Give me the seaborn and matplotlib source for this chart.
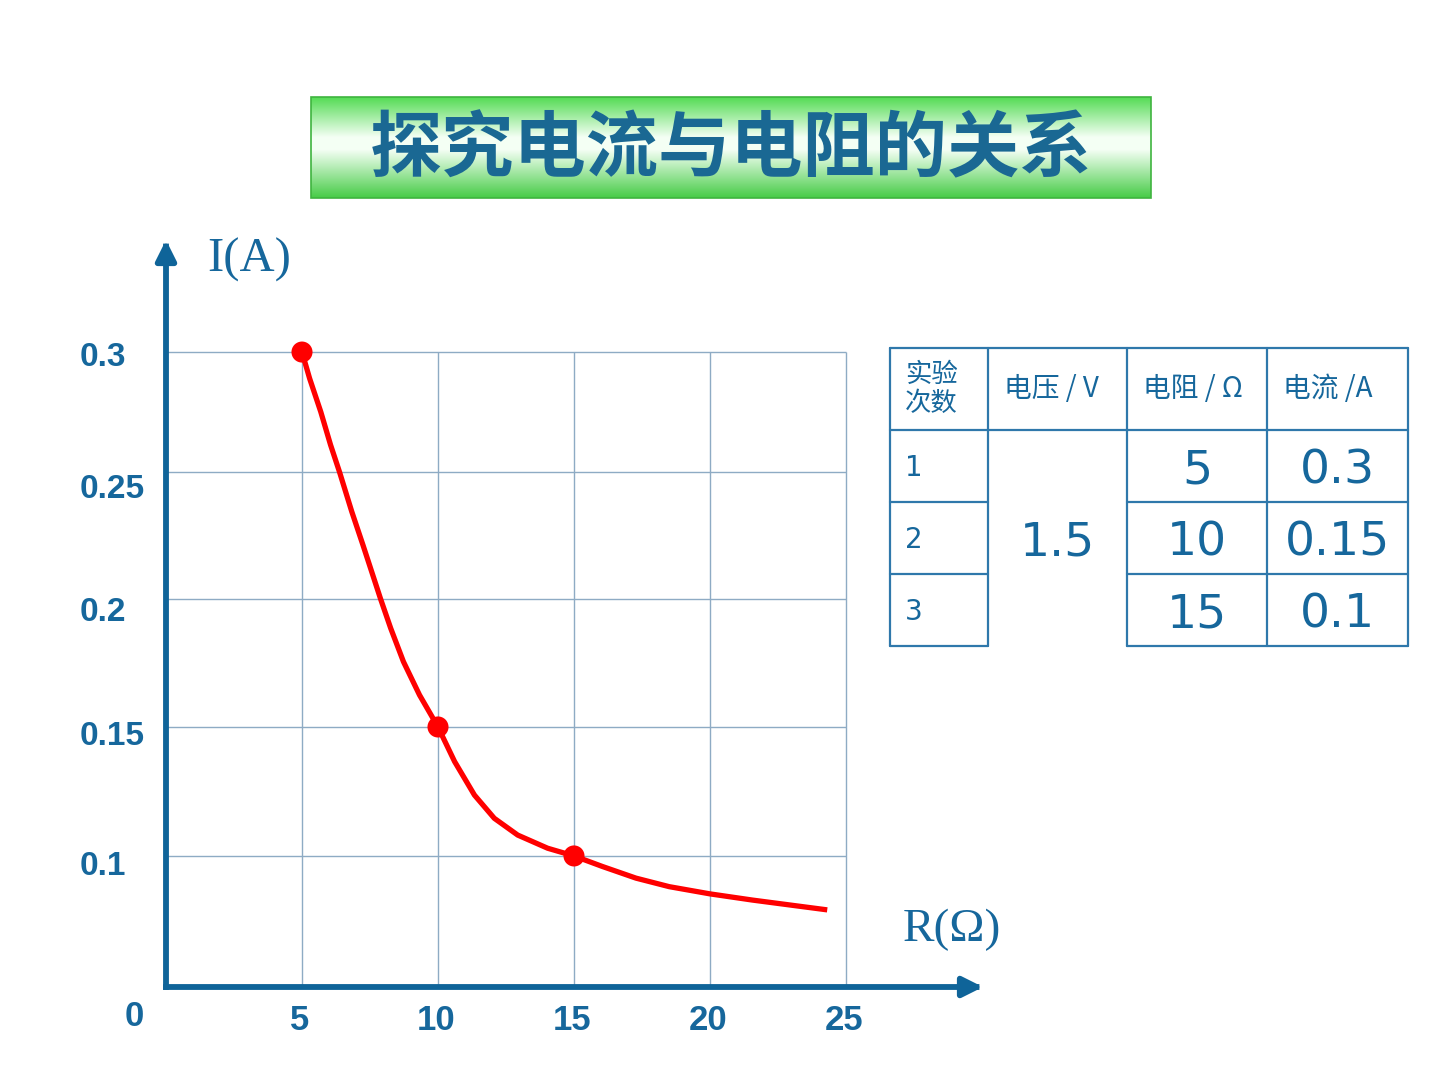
import numpy as np
import pandas as pd
import matplotlib
matplotlib.use('Agg')
import matplotlib.pyplot as plt
import seaborn as sns
from matplotlib import font_manager as fm
from matplotlib.lines import Line2D
from matplotlib.patches import Rectangle

# ---------------- data ----------------
title = '探究电流与电阻的关系'
x_label = 'R(Ω)'
y_label = 'I(A)'
x_ticks = [5, 10, 15, 20, 25]
x_tick_labels = ['5', '10', '15', '20', '25']
y_ticks = [0.1, 0.15, 0.2, 0.25, 0.3]
y_tick_labels = ['0.1', '0.15', '0.2', '0.25', '0.3']
origin_label = '0'

trials = ['1', '2', '3']
voltage = 1.5
resistance = [5, 10, 15]
current = [0.3, 0.15, 0.1]
headers = ['实验\n次数', '电压 / V', '电阻 / Ω', '电流 /A']

# hand-drawn curve
curve_r = [5.0, 5.28, 5.69, 6.05, 6.38, 6.83, 7.24, 7.64, 7.89, 8.26, 8.73, 9.32,
           10.0, 10.61, 11.34, 12.07, 12.93, 14.03, 15.0, 16.05, 17.28, 18.5, 20.0,
           21.56, 23.15, 24.31]
curve_i = [0.3, 0.289, 0.2751, 0.2613, 0.25, 0.2344, 0.2213, 0.2082, 0.2, 0.1886,
           0.1755, 0.1625, 0.15, 0.1366, 0.1236, 0.1146, 0.1081, 0.103, 0.1, 0.0959,
           0.0914, 0.0881, 0.0853, 0.0829, 0.0807, 0.0791]

# ---------------- style ----------------
sns.set_theme(style='white')
plt.rcParams['font.family'] = ['Noto Sans CJK SC', 'DejaVu Sans']

names = {f.name for f in fm.fontManager.ttflist}
narrow = 'Liberation Sans Narrow' if 'Liberation Sans Narrow' in names else 'Liberation Sans'

AX_COLOR = '#0f6499'
TXT_COLOR = '#16679c'
GRID_COLOR = '#8eabc4'
TABLE_LINE = '#2f78ab'

fig = plt.figure(figsize=(14.4, 10.8), dpi=100)

# background overlay in pixel coordinates (banner, table)
bg = fig.add_axes([0, 0, 1, 1])
bg.set_xlim(0, 1440)
bg.set_ylim(1080, 0)
bg.axis('off')

# banner gradient
t = np.linspace(0, 1, 200)
stops_t = [0.0, 0.40, 0.52, 1.0]
top_c = np.array([0.33, 0.86, 0.33])
mid_c = np.array([0.96, 1.0, 0.96])
bot_c = np.array([0.28, 0.80, 0.28])
cols = [top_c, mid_c, mid_c, bot_c]
grad = np.stack([np.interp(t, stops_t, [c[k] for c in cols]) for k in range(3)], axis=-1)
grad = grad[:, None, :]
bg.imshow(grad, extent=(311, 1151, 198, 97), aspect='auto', zorder=1)
bg.add_patch(Rectangle((311, 97), 840, 101, fill=False, edgecolor='#3fb43f', lw=1.2, zorder=2))
bg.set_xlim(0, 1440)
bg.set_ylim(1080, 0)
bg.text(731, 150, title, ha='center', va='center', fontsize=52, fontweight='bold',
        color='#1a6893', family=['Noto Sans CJK SC', 'DejaVu Sans'], zorder=3)

# table
col_x = [890, 988, 1127, 1267, 1408]
row_y = [348, 430, 502, 574, 646]
for i, y in enumerate(row_y):
    if i <= 1:
        bg.add_line(Line2D([col_x[0], col_x[-1]], [y, y], color=TABLE_LINE, lw=1.6))
    else:
        bg.add_line(Line2D([col_x[0], col_x[1]], [y, y], color=TABLE_LINE, lw=1.6))
        bg.add_line(Line2D([col_x[2], col_x[-1]], [y, y], color=TABLE_LINE, lw=1.6))
for x in col_x:
    bg.add_line(Line2D([x, x], [row_y[0], row_y[-1]], color=TABLE_LINE, lw=1.6))

hdr_y = (row_y[0] + row_y[1]) / 2
bg.text(col_x[0] + 15, hdr_y, headers[0], ha='left', va='center', fontsize=19,
        color=TXT_COLOR, linespacing=1.1)
for j in range(1, 4):
    bg.text(col_x[j] + 16, hdr_y, headers[j], ha='left', va='center', fontsize=20,
            color=TXT_COLOR)

for k in range(3):
    cy = (row_y[k + 1] + row_y[k + 2]) / 2
    bg.text(col_x[0] + 15, cy + 2, trials[k], ha='left', va='center', fontsize=20,
            color=TXT_COLOR, family='DejaVu Sans')
    bg.text((col_x[2] + col_x[3]) / 2, cy + 5, f'{resistance[k]:g}', ha='center',
            va='center', fontsize=34, color=TXT_COLOR, family='DejaVu Sans')
    bg.text((col_x[3] + col_x[4]) / 2, cy + 5, f'{current[k]:g}', ha='center',
            va='center', fontsize=34, color=TXT_COLOR, family='DejaVu Sans')
bg.text((col_x[1] + col_x[2]) / 2, (row_y[1] + row_y[-1]) / 2 + 5, f'{voltage:g}',
        ha='center', va='center', fontsize=34, color=TXT_COLOR, family='DejaVu Sans')

# ---------------- main chart ----------------
ax = fig.add_axes([166 / 1440, (1080 - 987) / 1080, 817 / 1440, 747 / 1080])
ax.set_facecolor('none')

ky = np.array([0.0, 0.05, 0.1, 0.15, 0.2, 0.25, 0.3, 0.35, 0.4])
kp = -np.array([1114, 985, 856, 727, 599, 472, 352, 232, 112], dtype=float)


def fwd(v):
    return np.interp(v, ky, kp)


def inv(v):
    return np.interp(v, kp, ky)


ax.set_yscale('function', functions=(fwd, inv))
ax.set_xlim(0, 817 / 27.2)
ax.set_ylim(0.0492, 0.3467)
for s in ax.spines.values():
    s.set_visible(False)
ax.set_xticks([])
ax.set_yticks([])
ax.grid(False)

ax.vlines(x_ticks, 0.0492, max(y_ticks), color=GRID_COLOR, lw=1.0, zorder=1)
ax.hlines(y_ticks, 0, max(x_ticks), color=GRID_COLOR, lw=1.0, zorder=1)

sns.lineplot(x=curve_r, y=curve_i, ax=ax, color='#ff0000', lw=3.8, sort=False,
             estimator=None, zorder=3, solid_capstyle='butt', solid_joinstyle='round')
sns.scatterplot(x=resistance, y=current, ax=ax, color='#ff0000', s=230,
                edgecolor='none', zorder=4, clip_on=False)

arrow_kw = dict(arrowstyle='-|>,head_length=0.6,head_width=0.3', lw=4.2, color=AX_COLOR,
                mutation_scale=20, shrinkA=0, shrinkB=0, capstyle='projecting')
ax.annotate('', xy=(1, 0), xytext=(0, 0), xycoords='axes fraction', arrowprops=arrow_kw,
            annotation_clip=False)
ax.annotate('', xy=(0, 1), xytext=(0, 0), xycoords='axes fraction', arrowprops=arrow_kw,
            annotation_clip=False)

y_label_drop = [11, 10, 13, 17, 5]
for v, lab, d in zip(y_ticks, y_tick_labels, y_label_drop):
    ax.annotate(lab, xy=(0, v), xycoords=('axes fraction', 'data'), xytext=(-86, -d),
                textcoords='offset pixels', ha='left', va='center', fontsize=24,
                fontweight='bold', color=TXT_COLOR, family='Liberation Sans',
                annotation_clip=False)
for v, lab in zip(x_ticks, x_tick_labels):
    ax.annotate(lab, xy=(v, 0), xycoords=('data', 'axes fraction'), xytext=(-2, -33),
                textcoords='offset pixels', ha='center', va='center', fontsize=25,
                fontweight='bold', color=TXT_COLOR, family=narrow, annotation_clip=False)
ax.annotate(origin_label, xy=(0, 0), xycoords='axes fraction', xytext=(-32, -29),
            textcoords='offset pixels', ha='center', va='center', fontsize=25,
            fontweight='bold', color=TXT_COLOR, family=narrow, annotation_clip=False)

bg.text(207, 260, y_label, ha='left', va='center', fontsize=35, color=TXT_COLOR,
        family='Liberation Serif')
bg.text(903, 930, x_label, ha='left', va='center', fontsize=34, color=TXT_COLOR,
        family='Liberation Serif')

fig.savefig('out.png', dpi=100)
